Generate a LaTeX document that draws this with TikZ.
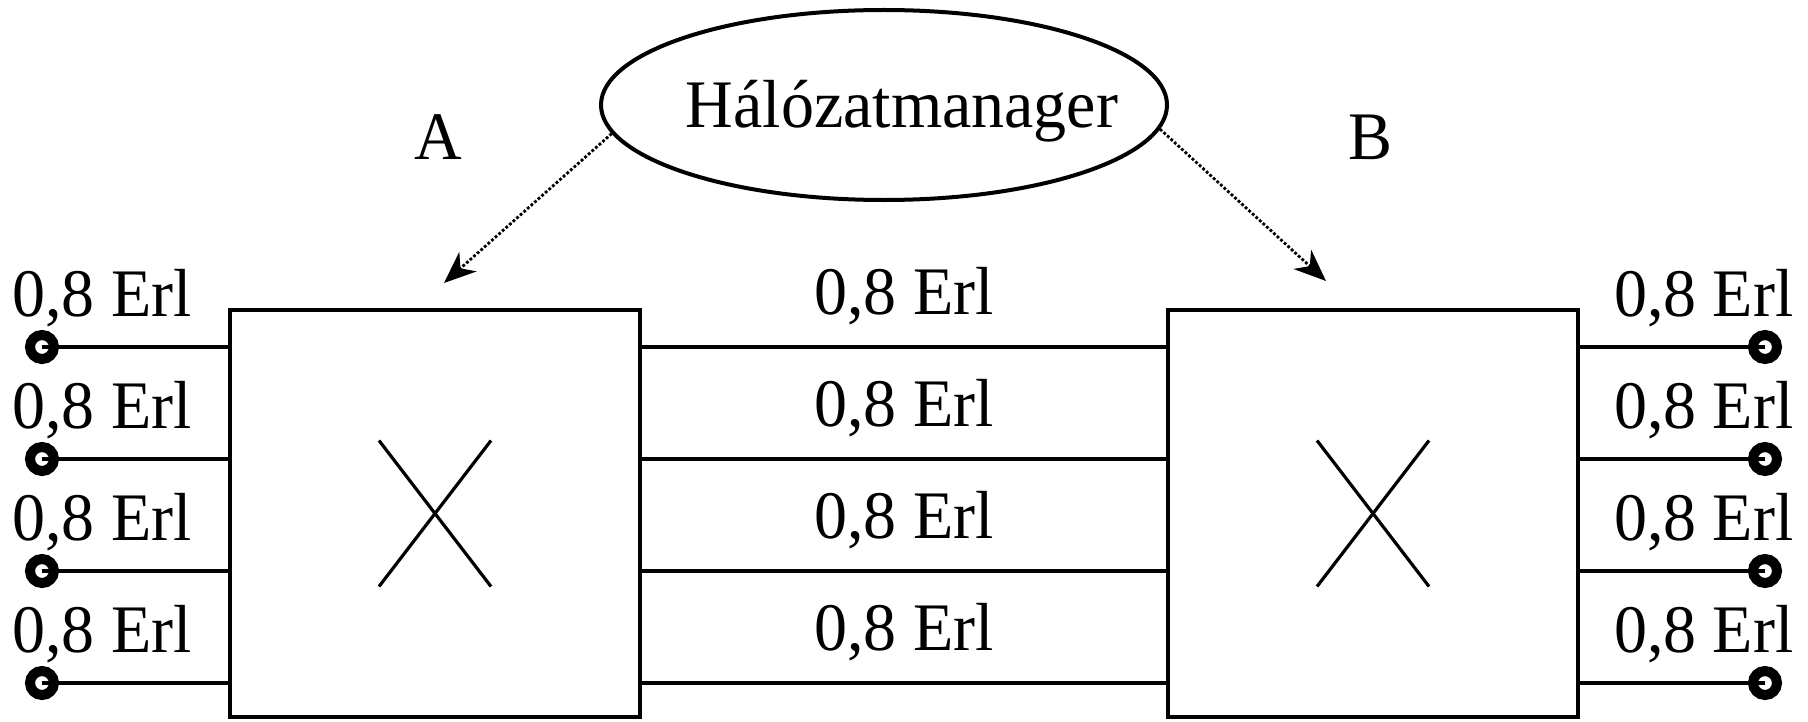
\documentclass[tikz,border=0pt]{standalone}
\usepackage{fontspec}
\setmainfont{Liberation Serif}[FakeStretch=0.97]
\usetikzlibrary{arrows.meta,shapes.geometric}
\begin{document}
\begin{tikzpicture}[x=0.5pt,y=-0.5pt,
  switchbox/.style={draw,line width=2.4pt,minimum width=205pt,minimum height=203.5pt,inner sep=0pt},
  port/.style={circle,draw,line width=5pt,minimum size=12pt,inner sep=0pt,outer sep=0pt},
  wire/.style={line width=2.3pt},
  lbl/.style={font=\fontsize{34}{40}\selectfont,inner sep=0pt},
  ctrl/.style={line width=1.4pt,densely dotted,-{Stealth[length=16pt,width=13pt,inset=5pt]}},
  xmark/.style={line width=1.6pt}]
\useasboundingbox (0,0) rectangle (1808,722);

% manager
\node[ellipse,draw,line width=2pt,minimum width=283pt,minimum height=95pt,inner sep=0pt] (M) at (884,105) {};
\node[lbl,anchor=base] (Mtext) at (902,127) {Hálózatmanager};

% switches
\node[switchbox] (A) at (435,513.5) {};
\node[switchbox] (B) at (1373,513.5) {};
\node[lbl,anchor=base] (Aname) at (438,159) {A};
\node[lbl,anchor=base] (Bname) at (1370,159) {B};

% crosspoint symbols
\draw[xmark] (A.center) ++(-56,-73) -- ++(112,146);
\draw[xmark] (A.center) ++(56,-73) -- ++(-112,146);
\draw[xmark] (B.center) ++(-56,-73) -- ++(112,146);
\draw[xmark] (B.center) ++(56,-73) -- ++(-112,146);

% control arrows
\coordinate (aTip) at (444,283);
\coordinate (bTip) at (1326,281);
\draw[ctrl] (M.186) -- (aTip);
\draw[ctrl] (M.355) -- (bTip);

% lines with traffic
\foreach \i/\y in {1/347,2/459,3/571,4/683}{
  \node[port] (L\i) at (42,\y) {};
  \node[port] (R\i) at (1765,\y) {};
  \draw[wire] (L\i.center) -- (L\i.center -| A.west);
  \draw[wire] (R\i.center) -- (R\i.center -| B.east);
  \draw[wire] (L\i.center -| A.east) -- (L\i.center -| B.west);
  \node[lbl,anchor=base west] (lL\i) at (12,\y-31) {0,8 Erl};
  \node[lbl,anchor=base east] (lR\i) at (1794,\y-31) {0,8 Erl};
  \node[lbl,anchor=base] (lM\i) at (904,\y-33) {0,8 Erl};
}
\end{tikzpicture}
\end{document}
